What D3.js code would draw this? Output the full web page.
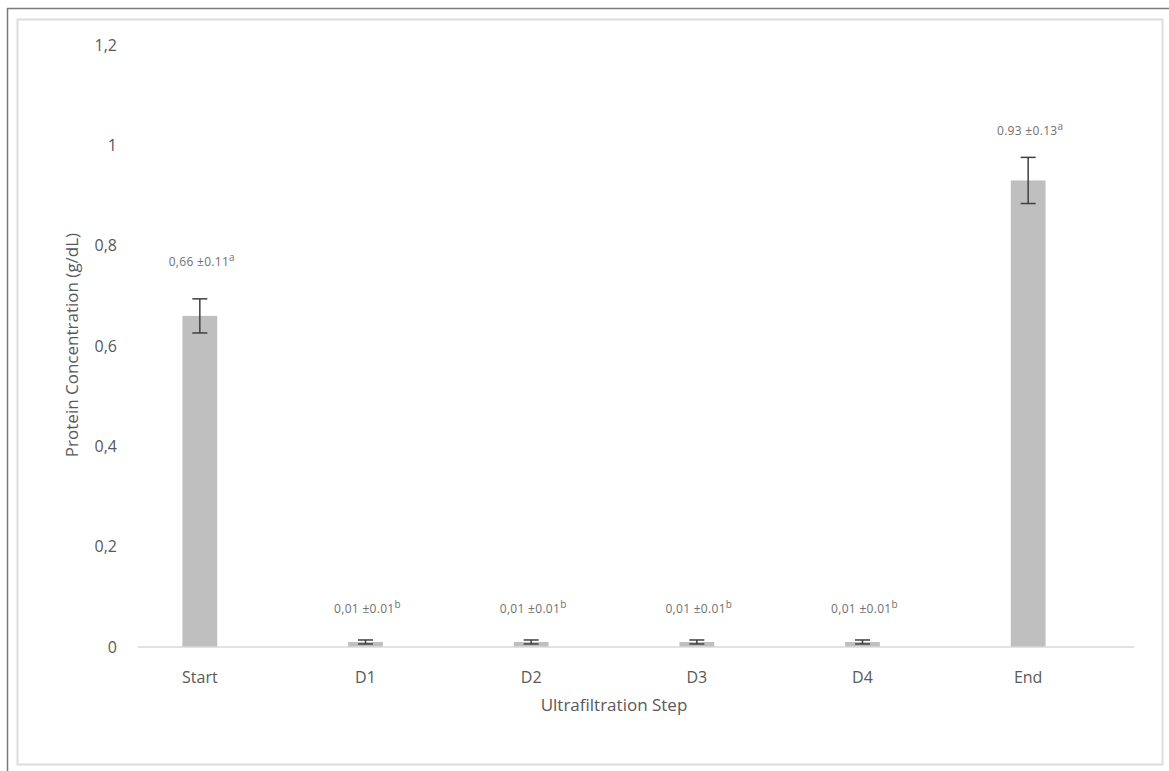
<!DOCTYPE html>
<html>
<head>
<meta charset="utf-8">
<script src="https://cdn.jsdelivr.net/npm/d3@7"></script>
<style>
  html, body { margin: 0; padding: 0; background: #fff; }
  svg { display: block; }
  text { font-family: "Open Sans", "Noto Sans", sans-serif; }
</style>
</head>
<body>
<script>
// Protein concentration across ultrafiltration steps
const categories = ["Start", "D1", "D2", "D3", "D4", "End"];
const means = [0.66, 0.01, 0.01, 0.01, 0.01, 0.93];
const errBars = [0.034, 0.004, 0.004, 0.004, 0.004, 0.046];
const labelMean = ["0,66", "0,01", "0,01", "0,01", "0,01", "0.93"];
const labelSd = ["±0.11", "±0.01", "±0.01", "±0.01", "±0.01", "±0.13"];
const labelGroup = ["a", "b", "b", "b", "b", "a"];
const yTicks = [0, 0.2, 0.4, 0.6, 0.8, 1, 1.2];

const W = 1169, H = 771;
const svg = d3.select("body").append("svg").attr("width", W).attr("height", H);

// frame
svg.append("rect").attr("x", 17.5).attr("y", 19.5).attr("width", 1145).attr("height", 745)
  .attr("fill", "#fff").attr("stroke", "#dcdcdc").attr("stroke-width", 2);
svg.append("line").attr("x1", 7.5).attr("x2", 7.5).attr("y1", 8).attr("y2", H)
  .attr("stroke", "#7a7a7a").attr("stroke-width", 1.5);
svg.append("line").attr("x1", 7).attr("x2", W).attr("y1", 8.5).attr("y2", 8.5)
  .attr("stroke", "#7a7a7a").attr("stroke-width", 1.5);

const x = d3.scaleBand().domain(categories).range([117, 1111]).paddingInner(0.79).paddingOuter(0.395);
const y = d3.scaleLinear().domain([0, 1.2]).range([647, 45]);

const fmt = d => d === 0 ? "0" : d3.format("~g")(d).replace(".", ",");

// y tick labels
svg.append("g").selectAll("text").data(yTicks).join("text")
  .attr("x", 117).attr("y", d => y(d)).attr("dy", "0.35em")
  .attr("text-anchor", "end").attr("font-size", 16).attr("fill", "#595959")
  .text(fmt);

// bars
svg.append("g").selectAll("rect").data(categories).join("rect")
  .attr("x", d => x(d)).attr("width", x.bandwidth())
  .attr("y", (d, i) => y(means[i])).attr("height", (d, i) => y(0) - y(means[i]))
  .attr("fill", "#bfbfbf");

// baseline
svg.append("line").attr("x1", 138).attr("x2", 1134).attr("y1", y(0)).attr("y2", y(0))
  .attr("stroke", "#d9d9d9").attr("stroke-width", 1.5);

// error bars
const eb = svg.append("g").attr("stroke", "#404040").attr("stroke-width", 1.5);
categories.forEach((c, i) => {
  const cx = x(c) + x.bandwidth() / 2;
  const lo = y(means[i] - errBars[i]), hi = y(means[i] + errBars[i]);
  eb.append("line").attr("x1", cx).attr("x2", cx).attr("y1", lo).attr("y2", hi);
  eb.append("line").attr("x1", cx - 7.5).attr("x2", cx + 7.5).attr("y1", lo).attr("y2", lo);
  eb.append("line").attr("x1", cx - 7.5).attr("x2", cx + 7.5).attr("y1", hi).attr("y2", hi);
});

// value labels, lifted above each bar top by a hand-placed gap (px)
const labelGap = [50, 29, 29, 29, 29, 45];
const lab = svg.append("g").selectAll("text").data(categories).join("text")
  .attr("x", (d, i) => x(d) + x.bandwidth() / 2 + 2)
  .attr("y", (d, i) => y(means[i]) - labelGap[i])
  .attr("text-anchor", "middle").attr("font-size", 12).attr("letter-spacing", 0.3)
  .attr("fill", "#707070");
lab.append("tspan").text((d, i) => labelMean[i] + " " + labelSd[i]);
lab.append("tspan").attr("dy", -5).attr("font-size", 10).text((d, i) => labelGroup[i]);

// x category labels
svg.append("g").selectAll("text").data(categories).join("text")
  .attr("x", d => x(d) + x.bandwidth() / 2).attr("y", 683)
  .attr("text-anchor", "middle").attr("font-size", 16).attr("fill", "#595959")
  .text(d => d);

// axis titles
svg.append("text").attr("x", 614).attr("y", 711).attr("text-anchor", "middle")
  .attr("font-size", 17).attr("fill", "#595959").text("Ultrafiltration Step");
svg.append("text").attr("transform", "translate(78,345) rotate(-90)")
  .attr("text-anchor", "middle").attr("font-size", 17).attr("fill", "#595959")
  .text("Protein Concentration (g/dL)");
</script>
</body>
</html>
